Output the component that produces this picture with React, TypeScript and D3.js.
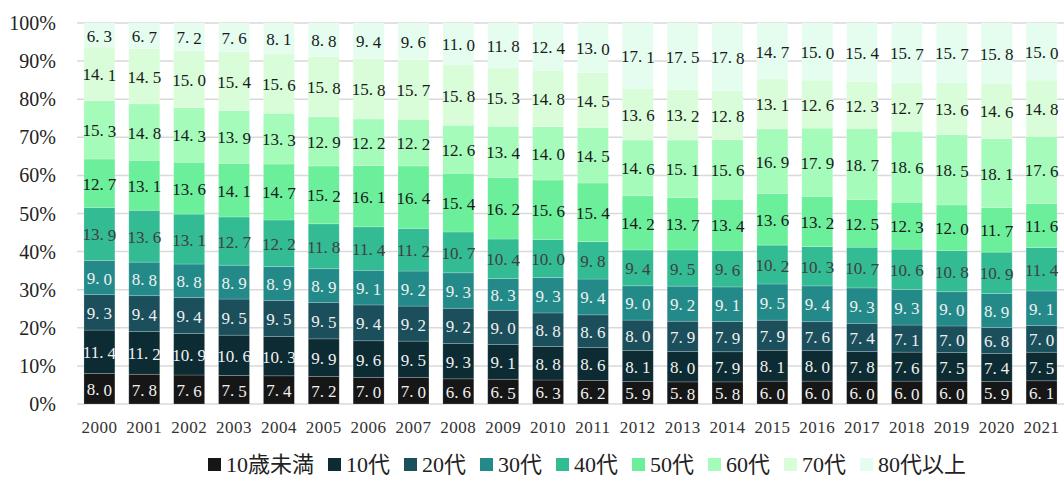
import React from "react";
import * as d3 from "d3";

const years = ["2000","2001","2002","2003","2004","2005","2006","2007","2008","2009","2010","2011","2012","2013","2014","2015","2016","2017","2018","2019","2020","2021"];
const seriesNames = ["10歳未満","10代","20代","30代","40代","50代","60代","70代","80代以上"];
const under10 = [8.0,7.8,7.6,7.5,7.4,7.2,7.0,7.0,6.6,6.5,6.3,6.2,5.9,5.8,5.8,6.0,6.0,6.0,6.0,6.0,5.9,6.1];
const teens = [11.4,11.2,10.9,10.6,10.3,9.9,9.6,9.5,9.3,9.1,8.8,8.6,8.1,8.0,7.9,8.1,8.0,7.8,7.6,7.5,7.4,7.5];
const twenties = [9.3,9.4,9.4,9.5,9.5,9.5,9.4,9.2,9.2,9.0,8.8,8.6,8.0,7.9,7.9,7.9,7.6,7.4,7.1,7.0,6.8,7.0];
const thirties = [9.0,8.8,8.8,8.9,8.9,8.9,9.1,9.2,9.3,8.3,9.3,9.4,9.0,9.2,9.1,9.5,9.4,9.3,9.3,9.0,8.9,9.1];
const forties = [13.9,13.6,13.1,12.7,12.2,11.8,11.4,11.2,10.7,10.4,10.0,9.8,9.4,9.5,9.6,10.2,10.3,10.7,10.6,10.8,10.9,11.4];
const fifties = [12.7,13.1,13.6,14.1,14.7,15.2,16.1,16.4,15.4,16.2,15.6,15.4,14.2,13.7,13.4,13.6,13.2,12.5,12.3,12.0,11.7,11.6];
const sixties = [15.3,14.8,14.3,13.9,13.3,12.9,12.2,12.2,12.6,13.4,14.0,14.5,14.6,15.1,15.6,16.9,17.9,18.7,18.6,18.5,18.1,17.6];
const seventies = [14.1,14.5,15.0,15.4,15.6,15.8,15.8,15.7,15.8,15.3,14.8,14.5,13.6,13.2,12.8,13.1,12.6,12.3,12.7,13.6,14.6,14.8];
const over80 = [6.3,6.7,7.2,7.6,8.1,8.8,9.4,9.6,11.0,11.8,12.4,13.0,17.1,17.5,17.8,14.7,15.0,15.4,15.7,15.7,15.8,15.0];
const yTicks = [0,0.1,0.2,0.3,0.4,0.5,0.6,0.7,0.8,0.9,1.0];

const seriesValues = [under10, teens, twenties, thirties, forties, fifties, sixties, seventies, over80];
const colors = ["#161616","#0d2b32","#1b4f5b","#238a89","#33bb94","#6cef9a","#a5fbba","#d8fdd8","#e4fdef"];
const labelColors = ["#f0f0f0","#f0f0f0","#f0f0f0","#f0f0f0","#404040","#1a1a1a","#1a1a1a","#1a1a1a","#1a1a1a"];

const W = 1064, H = 480;
const left = 77, right = 1064, top = 23, bottom = 404;
const serif = "'Liberation Serif', 'DejaVu Serif', serif";
const cjk = "'Liberation Serif', 'Noto Sans CJK JP', serif";

function Label({ x, y, text, color }: { x: number; y: number; text: string; color: string }) {
  const [a, b] = text.split(".");
  return (
    <text x={x} y={y} textAnchor="middle" dominantBaseline="central" fontFamily={serif} fontSize={17} fill={color}>
      {a}.<tspan dx={4}>{b}</tspan>
    </text>
  );
}

export default function App() {
  const rows = years.map((yr, i) => {
    const r: any = { year: yr };
    seriesNames.forEach((s, k) => { r[s] = seriesValues[k][i]; });
    return r;
  });
  const stack = d3.stack<any>().keys(seriesNames).offset(d3.stackOffsetExpand);
  const layers = stack(rows);
  const x = d3.scaleBand<string>().domain(years).range([left, right]).paddingInner(0.31).paddingOuter(0.155);
  const y = d3.scaleLinear().domain([0, 1]).range([bottom, top]);
  const bw = x.bandwidth();

  // legend layout
  const fs = 22;
  const textW = (s: string) => Array.from(s).reduce((acc, c) => acc + (/[0-9]/.test(c) ? fs * 0.5 : fs), 0);
  let lx = 208;
  const legendItems = seriesNames.map((s, k) => {
    const item = { x: lx, name: s, color: colors[k] };
    lx += 13 + 5 + textW(s) + 14;
    return item;
  });
  const ly = 464.5;

  return (
    <svg width={W} height={H} style={{ position: "absolute", left: 0, top: 0, background: "#fff" }}>
      {yTicks.map((t) => (
        <g key={t}>
          <line x1={left} x2={right} y1={y(t)} y2={y(t)} stroke="#d9d9d9" strokeWidth={1.5} />
          <text x={56} y={y(t)} textAnchor="end" dominantBaseline="central" fontFamily={serif} fontSize={20} fill="#222">
            {d3.format(".0%")(t)}
          </text>
        </g>
      ))}
      {layers.map((layer, k) => (
        <g key={layer.key}>
          {layer.map((d, i) => (
            <rect key={i} x={x(years[i])!} y={y(d[1])} width={bw} height={y(d[0]) - y(d[1])}
              fill={colors[k]} stroke="#ffffff" strokeOpacity={0.25} strokeWidth={0.75} />
          ))}
        </g>
      ))}
      {layers.map((layer, k) => (
        <g key={"l" + layer.key}>
          {layer.map((d, i) => (
            <Label key={i} x={x(years[i])! + bw / 2} y={(y(d[0]) + y(d[1])) / 2 + 1}
              text={seriesValues[k][i].toFixed(1)} color={labelColors[k]} />
          ))}
        </g>
      ))}
      {years.map((yr) => (
        <text key={yr} x={x(yr)! + bw / 2} y={427} textAnchor="middle" dominantBaseline="central"
          fontFamily={serif} fontSize={17} letterSpacing={0.5} fill="#333">{yr}</text>
      ))}
      {legendItems.map((it) => (
        <g key={it.name}>
          <rect x={it.x} y={ly - 6.5} width={13} height={13} fill={it.color} />
          <text x={it.x + 18} y={ly} dominantBaseline="central" fontFamily={cjk} fontSize={fs} fill="#222">{it.name}</text>
        </g>
      ))}
    </svg>
  );
}
